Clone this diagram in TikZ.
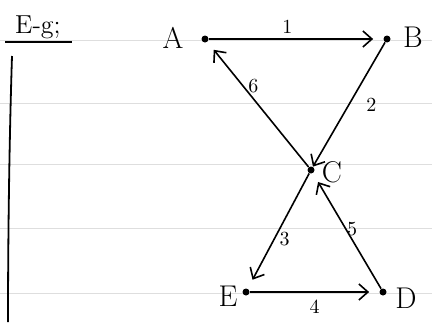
\documentclass[tikz,border=0pt]{standalone}
\usepackage{amsmath}
\usepackage{tikz}
\usetikzlibrary{arrows.meta}

\begin{document}
\begin{tikzpicture}[x=0.5pt,y=-0.5pt,shorten >=5pt]
  \tikzstyle{vertex}=[circle,fill=black,minimum size=3.5pt,inner sep=0pt]
  \tikzstyle{vlabel}=[font=\fontsize{15}{18}\selectfont]
  \tikzstyle{weight}=[font=\fontsize{10}{12}\selectfont]
  \tikzstyle{edge}=[-{Straight Barb[length=4.5pt,width=8pt]},line width=0.8pt]
  \tikzstyle{ruled}=[black!13,line width=0.5pt,shorten >=0pt]
  \useasboundingbox (0,0) rectangle (432,322);
  % notebook lines
  \foreach \y in {40,103,164,228,293}
    \draw[ruled] (0,\y) -- (432,\y);
  \draw[line width=0.9pt,shorten >=0pt] (12,56) .. controls (9,150) and (8,250) .. (8,322);
  \node (eg) at (38,27) {\fontsize{13}{15}\selectfont E-g;};
  \draw[line width=0.9pt,shorten >=0pt] (5,42) -- (72,42);
  % vertices
  \node[vertex] (A) at (205,39)  {};
  \node[vlabel] (lA) at (173,38) {A};
  \node[vertex] (B) at (387,39)  {};
  \node[vlabel] (lB) at (413,37) {B};
  \node[vertex] (C) at (311,170) {};
  \node[vlabel] (lC) at (332,172) {C};
  \node[vertex] (E) at (246,292) {};
  \node[vlabel] (lE) at (228,296) {E};
  \node[vertex] (D) at (383,292) {};
  \node[vlabel] (lD) at (406,298) {D};
  % edges
  \draw[edge] (A) -- node[weight,pos=0.45,above=-1pt] {1} (B);
  \draw[edge,shorten >=0pt] (B) -- node[weight,pos=0.5,right=5pt] {2} (C);
  \draw[edge] (C) -- node[weight,pos=0.57,right=-1pt] {3} (E);
  \draw[edge] (E) -- node[weight,below=0pt] {4} (D);
  \draw[edge] (D) -- node[weight,pos=0.52,right=-3pt] {5} (C);
  \draw[edge] (C) -- node[weight,pos=0.65,right=-1pt] {6} (A);
\end{tikzpicture}
\end{document}
